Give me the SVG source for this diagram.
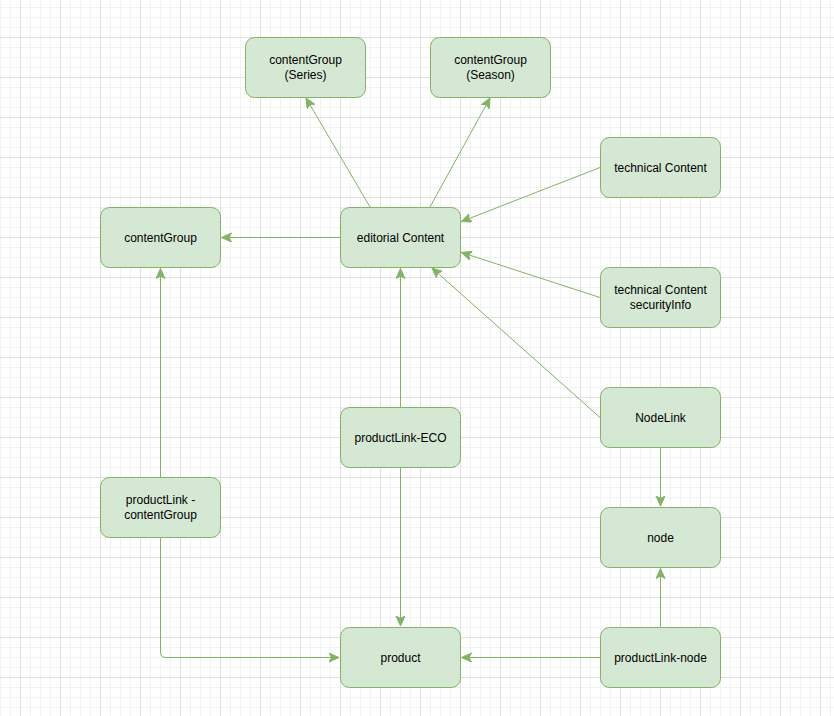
<svg xmlns="http://www.w3.org/2000/svg" width="834" height="716" viewBox="0 0 834 716">
<style>
.n rect{fill:#d5e8d4;stroke:#82b366;stroke-width:1}
.n text{font-family:"Liberation Sans",Arial,sans-serif;font-size:12px;fill:#000;text-anchor:middle}
.e path{fill:none;stroke:#82b366;stroke-width:1;marker-end:url(#arr)}
</style>
<defs>
<pattern id="grid" x="20" y="37" width="40" height="40" patternUnits="userSpaceOnUse">
<path d="M10.5 0V40M20.5 0V40M30.5 0V40M0 10.5H40M0 20.5H40M0 30.5H40" stroke="#f2f2f2" stroke-width="1" fill="none"/>
<path d="M0.5 0V40M0 0.5H40" stroke="#e0e0e0" stroke-width="1" fill="none"/>
</pattern>
<marker id="arr" markerUnits="userSpaceOnUse" markerWidth="12" markerHeight="10" refX="10" refY="4.5" orient="auto" viewBox="0 0 12 10">
<path d="M0 0L10 4.5L0 9L2.5 4.5Z" fill="#82b366" stroke="#82b366" stroke-width="1"/>
</marker>
</defs>
<rect width="834" height="716" fill="#fff"/>
<rect width="834" height="716" fill="url(#grid)"/>
<g id="edges" class="e">
<path d="M340.5 237.5H221.5"/>
<path d="M370 207L306 98"/>
<path d="M430 207L490 98"/>
<path d="M600 167.5L461.5 221.5"/>
<path d="M600 297.5L461.5 252.5"/>
<path d="M600 417.5L432 268"/>
<path d="M400.5 407V268.5"/>
<path d="M400.5 467V626"/>
<path d="M160.5 477V268.5"/>
<path d="M160.5 537V652Q160.5 657.5 166 657.5H339"/>
<path d="M660.5 447V506"/>
<path d="M660.5 627V568.5"/>
<path d="M600 657.5H461.5"/>
</g>
<g id="contentGroupSeries" class="n"><rect x="245.5" y="37.5" width="120" height="60" rx="9"/><text x="305.5" y="64">contentGroup</text><text x="305.5" y="79">(Series)</text></g>
<g id="contentGroupSeason" class="n"><rect x="430.5" y="37.5" width="120" height="60" rx="9"/><text x="490.5" y="64">contentGroup</text><text x="490.5" y="79">(Season)</text></g>
<g id="technicalContent" class="n"><rect x="600.5" y="137.5" width="120" height="60" rx="9"/><text x="660.5" y="171.5">technical Content</text></g>
<g id="contentGroup" class="n"><rect x="100.5" y="207.5" width="120" height="60" rx="9"/><text x="160.5" y="241.5">contentGroup</text></g>
<g id="editorialContent" class="n"><rect x="340.5" y="207.5" width="120" height="60" rx="9"/><text x="400.5" y="241.5">editorial Content</text></g>
<g id="securityInfo" class="n"><rect x="600.5" y="267.5" width="120" height="60" rx="9"/><text x="660.5" y="294">technical Content</text><text x="660.5" y="309">securityInfo</text></g>
<g id="nodeLink" class="n"><rect x="600.5" y="387.5" width="120" height="60" rx="9"/><text x="660.5" y="421.5">NodeLink</text></g>
<g id="productLinkECO" class="n"><rect x="340.5" y="407.5" width="120" height="60" rx="9"/><text x="400.5" y="441.5">productLink-ECO</text></g>
<g id="productLinkContentGroup" class="n"><rect x="100.5" y="477.5" width="120" height="60" rx="9"/><text x="160.5" y="504">productLink -</text><text x="160.5" y="519">contentGroup</text></g>
<g id="node" class="n"><rect x="600.5" y="507.5" width="120" height="60" rx="9"/><text x="660.5" y="541.5">node</text></g>
<g id="product" class="n"><rect x="340.5" y="627.5" width="120" height="60" rx="9"/><text x="400.5" y="661.5">product</text></g>
<g id="productLinkNode" class="n"><rect x="600.5" y="627.5" width="120" height="60" rx="9"/><text x="660.5" y="661.5">productLink-node</text></g>
</svg>
